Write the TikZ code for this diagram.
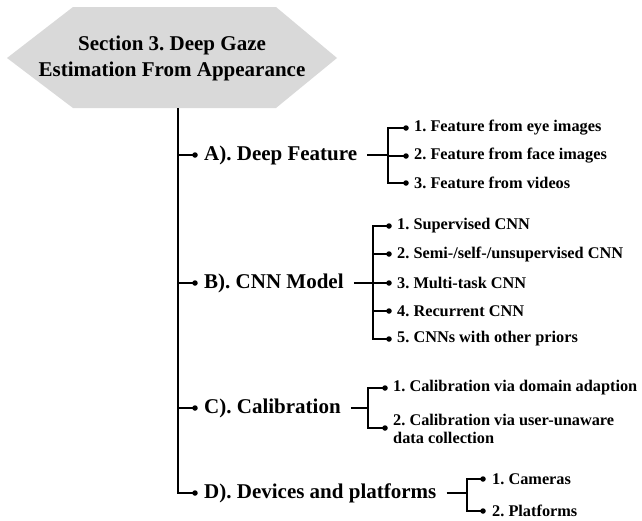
\documentclass[tikz,border=0pt]{standalone}
\usepackage{fontspec}
\setmainfont{Liberation Serif}
\frenchspacing
\begin{document}
\begin{tikzpicture}[x=1pt,y=-1pt,
  hexfont/.style={font=\fontsize{21}{26}\selectfont\bfseries\frenchspacing},
  mainlbl/.style={anchor=west,inner sep=0pt,font=\fontsize{21}{25}\selectfont\bfseries\frenchspacing},
  sublbl/.style={anchor=west,inner sep=0pt,align=left,font=\fontsize{16.3}{18}\selectfont\bfseries\frenchspacing},
  dotnode/.style={circle,fill=black,inner sep=0pt,minimum size=5.5pt},
  trunkline/.style={line width=1.8pt},
  branchline/.style={line width=1.1pt}]
\useasboundingbox (0,0) rectangle (642,520);
% hexagon
\fill[fill={rgb,255:red,217;green,217;blue,217}] (7,58) -- (73,7) -- (276,7) -- (337,58) -- (276,108) -- (73,108) -- cycle;
\node[hexfont,align=center] (hex) at (172,58) {Section 3. Deep Gaze\\Estimation From Appearance};
\coordinate (ttop) at (178,108);
\coordinate (tbot) at (178,493);
\draw[trunkline] (ttop) -- (tbot);

% main dots and labels
\node[dotnode] (dA) at (195,155) {};
\node[mainlbl] (A) at (204,155) {A). Deep Feature};
\node[dotnode] (dB) at (195,283) {};
\node[mainlbl] (B) at (204,283) {B). CNN Model};
\node[dotnode] (dC) at (195,408) {};
\node[mainlbl] (C) at (204,408) {C). Calibration};
\node[dotnode] (dD) at (195,493) {};
\node[mainlbl] (D) at (204,493) {D). Devices and platforms};
\foreach \n in {dA,dB,dC} \draw[branchline] (ttop |- \n) -- (\n.center);
\draw[branchline] ([yshift=-0.9pt]tbot) |- (dD.center);

% A sub items
\coordinate (jA) at (388,155);
\node[dotnode] (dA1) at (406,128) {};
\node[sublbl] (A1) at (414,128) {1. Feature from eye images};
\node[dotnode] (dA2) at (406,156) {};
\node[sublbl] (A2) at (414,156) {2. Feature from face images};
\node[dotnode] (dA3) at (406,183) {};
\node[sublbl] (A3) at (414,183) {3. Feature from videos};
\draw[branchline] ([xshift=10pt]A.east) -- (jA);
\draw[branchline] (dA1.center) -| (jA) |- (dA3.center);
\draw[branchline] (jA |- dA2) -- (dA2.center);

% B sub items
\coordinate (jB) at (373,283);
\node[dotnode] (dB1) at (389,226) {};
\node[sublbl] (B1) at (397,226) {1. Supervised CNN};
\node[dotnode] (dB2) at (389,254) {};
\node[sublbl] (B2) at (397,254) {2. Semi-/self-/unsupervised CNN};
\node[dotnode] (dB3) at (389,283) {};
\node[sublbl] (B3) at (397,283) {3. Multi-task CNN};
\node[dotnode] (dB4) at (389,311) {};
\node[sublbl] (B4) at (397,311) {4. Recurrent CNN};
\node[dotnode] (dB5) at (389,339) {};
\node[sublbl] (B5) at (397,339) {5. CNNs with other priors};
\draw[branchline] ([xshift=10pt]B.east) -- (jB);
\draw[branchline] (dB1.center) -| (jB) |- (dB5.center);
\foreach \n in {dB2,dB3,dB4} \draw[branchline] (jB |- \n) -- (\n.center);

% C sub items
\coordinate (jC) at (368,408);
\node[dotnode] (dC1) at (385,388) {};
\node[sublbl] (C1) at (393,388) {1. Calibration via domain adaption};
\node[dotnode] (dC2) at (385,428) {};
\node[sublbl] (C2) at (393,429) {2. Calibration via user-unaware\\data collection};
\draw[branchline] ([xshift=10pt]C.east) -- (jC);
\draw[branchline] (dC1.center) -| (jC) |- (dC2.center);

% D sub items
\coordinate (jD) at (467,493);
\node[dotnode] (dD1) at (483,479) {};
\node[sublbl] (D1) at (492,479) {1. Cameras};
\node[dotnode] (dD2) at (483,511) {};
\node[sublbl] (D2) at (492,511) {2. Platforms};
\draw[branchline] ([xshift=10pt]D.east) -- (jD);
\draw[branchline] (dD1.center) -| (jD) |- (dD2.center);
\end{tikzpicture}
\end{document}
